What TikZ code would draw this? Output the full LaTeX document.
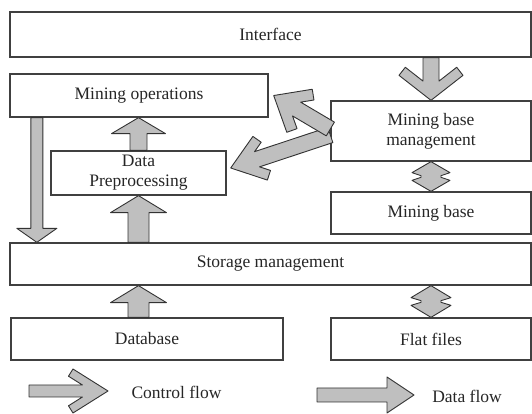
\documentclass[tikz,border=0pt]{standalone}
\usepackage{fontspec}
\setmainfont{Liberation Serif}
\usetikzlibrary{calc}

\begin{document}
\begin{tikzpicture}[
  x=1pt, y=1pt,
  font=\fontsize{17.5}{20}\selectfont,
  shaftw/.store in=\shaftw, headw/.store in=\headw,
  headl/.store in=\headl, headt/.store in=\headt,
  shaftw=7, headw=22, headl=32, headt=16,
  box/.style={draw=black!75, line width=1.3pt, fill=white, align=center, inner sep=0pt, text=black!85},
  flow/.style={draw=black!80, line width=0.9pt, fill=black!25, line join=round},
  dataflow/.style={flow, to path={let \p1=(\tikztostart), \p2=(\tikztotarget),
      \n1={atan2(\y2-\y1,\x2-\x1)}, \n2={veclen(\x2-\x1,\y2-\y1)} in
      {[shift={(\p1)}, rotate=\n1]
      (0,\shaftw) -- ({\n2-\headl},\shaftw) -- ({\n2-\headl},\headw) -- (\n2,0)
      -- ({\n2-\headl},-\headw) -- ({\n2-\headl},-\shaftw) -- (0,-\shaftw) -- cycle}}},
  ctrlflow/.style={flow, to path={let \p1=(\tikztostart), \p2=(\tikztotarget),
      \n1={atan2(\y2-\y1,\x2-\x1)}, \n2={veclen(\x2-\x1,\y2-\y1)},
      \n3={\headt*\headw*\headw/(\headl*\headl+\headw*\headw)},
      \n4={\headt*\headw*\headl/(\headl*\headl+\headw*\headw)} in
      {[shift={(\p1)}, rotate=\n1]
      (0,\shaftw) -- ({\n2-\headt-\headl*\shaftw/\headw},\shaftw)
      -- ({\n2-\headl-\n3},{\headw-\n4}) -- ({\n2-\headl},\headw) -- (\n2,0)
      -- ({\n2-\headl},-\headw) -- ({\n2-\headl-\n3},{\n4-\headw})
      -- ({\n2-\headt-\headl*\shaftw/\headw},-\shaftw) -- (0,-\shaftw) -- cycle}}},
  dblflow/.style={flow, to path={let \p1=(\tikztostart), \p2=(\tikztotarget),
      \n1={atan2(\y2-\y1,\x2-\x1)}, \n2={veclen(\x2-\x1,\y2-\y1)} in
      {[shift={(\p1)}, rotate=\n1]
      (0,0) -- (\headl,\headw) -- ({\headl+\headt},\shaftw) -- ({\n2-\headl-\headt},\shaftw)
      -- ({\n2-\headl},\headw) -- (\n2,0) -- ({\n2-\headl},-\headw) -- ({\n2-\headl-\headt},-\shaftw)
      -- ({\headl+\headt},-\shaftw) -- (\headl,-\headw) -- cycle}}}
]
\useasboundingbox (0,0) rectangle (532,414);

\node[box, minimum width=521, minimum height=45] (iface) at (270.5,379.5) {Interface};
\node[box, minimum width=258, minimum height=43] (mo) at (139,318.5) {Mining operations};
\node[box, minimum width=200, minimum height=60] (mbm) at (431,283) {Mining base\\management};
\node[box, minimum width=175, minimum height=44] (dp) at (138.5,241) {Data\\Preprocessing};
\node[box, minimum width=200, minimum height=42] (mb) at (431,201) {Mining base};
\node[box, minimum width=521, minimum height=42] (sm) at (270.5,150) {Storage management};
\node[box, minimum width=272, minimum height=42] (db) at (147,75) {Database};
\node[box, minimum width=200, minimum height=42] (ff) at (431,75) {Flat files};

% control flow
\draw[ctrlflow, shaftw=8, headw=32, headl=25, headt=13] (mbm.north |- iface.south) to (mbm.north);
\draw[ctrlflow, shaftw=8, headw=23, headl=31, headt=17] ([yshift=-4]mbm.west) to ([shift={(4,5)}]dp.east);
\draw[ctrlflow, shaftw=8, headw=25, headl=30, headt=17] ([yshift=2]mbm.west) to ([xshift=5]mo.east);

% data flow
\draw[dataflow, shaftw=6, headw=20, headl=14] ([xshift=27.5]mo.south west) to ([xshift=27.5]sm.north west);
\draw[dataflow, shaftw=8.5, headw=27, headl=16] (dp.north) to (dp.north |- mo.south);
\foreach \a/\bb in {dp.south |- sm.north/dp.south, dp.south |- db.north/dp.south |- sm.south}
  \draw[dataflow, shaftw=10.5, headw=28, headl=17] (\a) to (\bb);
\draw[dblflow, shaftw=10, headw=19, headl=11, headt=3] (mbm.south) to (mb.north);
\draw[dblflow, shaftw=10, headw=20, headl=12, headt=3] (ff.north |- sm.south) to (ff.north);

% legend
\coordinate (c1) at (29,23);
\coordinate (c2) at (108,23);
\coordinate (d1) at (317,19);
\coordinate (d2) at (414,19);
\draw[ctrlflow, shaftw=6, headw=22, headl=35] (c1) to (c2);
\draw[dataflow, shaftw=7, headw=18, headl=27] (d1) to (d2);
\node[text=black!85] (ctrltext) at (176.5,22) {Control flow};
\node[text=black!85] (datatext) at (467,18) {Data flow};
\end{tikzpicture}
\end{document}
